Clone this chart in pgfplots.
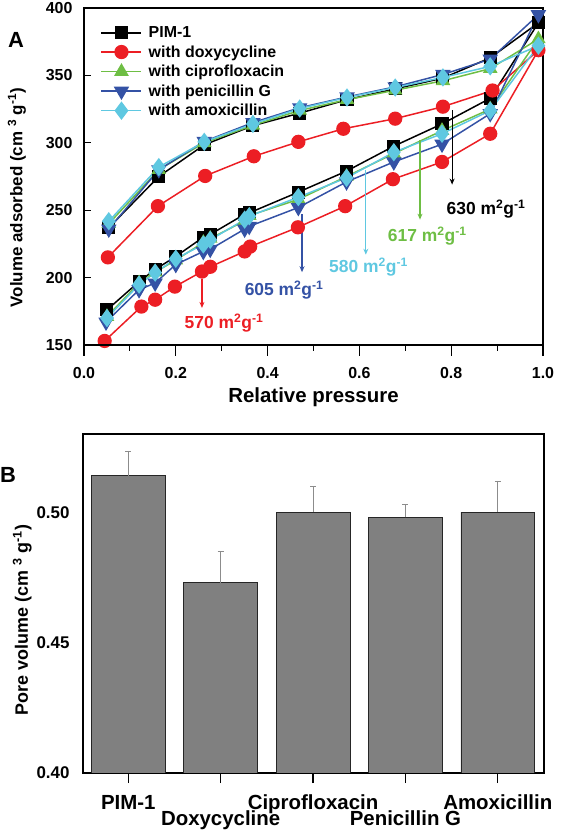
\documentclass[border=0pt]{standalone}
\usepackage{fontspec}
\setmainfont{Liberation Sans}
\usepackage{pgfplots}
\pgfplotsset{compat=1.18}
\usepackage{pgfplotstable}
\usetikzlibrary{arrows.meta}

\definecolor{cred}{RGB}{236,30,36}
\definecolor{cgreen}{RGB}{110,190,68}
\definecolor{cblue}{RGB}{52,82,165}
\definecolor{ccyan}{RGB}{95,200,225}
\definecolor{barg}{RGB}{128,128,128}

\pgfplotstableread{
P V
0.050 176
0.120 197
0.155 206
0.200 215.7
0.260 230
0.275 232
0.350 247
0.360 248
0.467 263.4
0.572 279
0.675 297.5
0.780 314
0.885 333
0.990 389
0.885 363
0.782 348
0.678 340
0.573 332
0.470 322
0.368 312.7
0.262 298.5
0.163 275
0.054 237
}\pimone

\pgfplotstableread{
P V
0.045 153
0.125 178.5
0.155 183.6
0.198 193.3
0.257 204.5
0.275 208
0.350 219.4
0.362 223
0.466 237.3
0.569 253
0.673 273
0.780 285.8
0.885 306.7
0.990 368.7
0.890 338.8
0.782 326.8
0.678 317.9
0.565 310.4
0.467 300.7
0.370 290
0.264 275.4
0.161 253
0.052 215
}\doxy

\pgfplotstableread{
P V
0.050 171
0.120 196
0.155 204
0.200 213
0.260 226
0.275 229
0.350 242
0.360 246
0.467 258
0.572 275
0.675 292
0.780 309
0.885 325
0.990 377
0.885 355
0.782 346
0.678 339
0.573 332
0.470 324
0.368 313
0.262 300
0.163 280
0.054 240
}\cipro

\pgfplotstableread{
P V
0.048 167
0.120 191
0.155 196
0.200 209.7
0.260 219.4
0.275 221
0.350 236
0.360 238
0.467 252
0.572 271
0.675 285.8
0.780 299
0.885 321.6
0.990 395
0.885 362
0.782 350.7
0.678 341.5
0.573 334
0.470 326
0.368 315
0.262 301
0.163 280
0.054 236
}\penic

\pgfplotstableread{
P V
0.050 170
0.120 194.8
0.155 203.7
0.200 214
0.260 224.6
0.275 228
0.350 243
0.360 245.5
0.467 259.7
0.572 274
0.675 293
0.780 306.7
0.885 323.9
0.990 372
0.885 356.7
0.782 348.5
0.678 341
0.573 333.6
0.470 325.4
0.368 314
0.262 300.7
0.163 282
0.054 241.8
}\amox

\pgfplotstableread{
x y e
0 0.514 0.0095
1 0.473 0.012
2 0.500 0.010
3 0.498 0.005
4 0.500 0.012
}\bars

\begin{document}
\begin{tikzpicture}
\path[use as bounding box] (0,0) rectangle (563bp,830bp);

% ---------- Panel A : main axis ----------
\begin{axis}[
  at={(84bp,485bp)}, anchor=south west, scale only axis,
  width=459bp, height=337bp,
  xmin=0, xmax=1, ymin=150, ymax=400,
  xtick=\empty,
  ytick={150,200,250,300,350,400},
  ytick pos=left, tick align=inside, major tick length=7bp,
  /pgf/number format/assume math mode=true,
  axis line style={line width=1.3pt},
  tick style={line width=1.2pt, black},
  y tick label style={font=\fontsize{16}{16}\selectfont\bfseries, xshift=-8bp},
  ylabel={Volume adsorbed (cm \textsuperscript{3} g\textsuperscript{-1})},
  ylabel style={at={(axis description cs:-0.146,0.437)}, anchor=center, font=\fontsize{17}{17}\selectfont\bfseries},
  clip=false,
  legend style={at={(axis description cs:0.036,0.95)}, anchor=north west, draw=none, fill=none,
    font=\fontsize{16}{16}\selectfont\bfseries, row sep=3.5bp, column sep=5bp, inner sep=0pt, nodes={inner sep=1.5bp}},
  legend cell align=left,
  legend image code/.code={\draw[mark repeat=2,mark phase=2] plot coordinates {(0bp,0bp) (20bp,0bp) (40bp,0bp)};},
]
\addplot[black, line width=1.5pt, mark=square*, mark size=5.8pt, mark options={solid, fill=black}] table[x=P,y=V] {\pimone};
\addlegendentry{PIM-1}
\addplot[cred, line width=1.5pt, mark=*, mark size=6.4pt, mark options={solid, fill=cred}] table[x=P,y=V] {\doxy};
\addlegendentry{with doxycycline}
\addplot[cgreen, line width=1.5pt, mark=triangle*, mark size=7pt, mark options={solid, fill=cgreen}] table[x=P,y=V] {\cipro};
\addlegendentry{with ciprofloxacin}
\addplot[cblue, line width=1.5pt, mark=triangle*, mark size=7.5pt, mark options={solid, fill=cblue, rotate=180}] table[x=P,y=V] {\penic};
\addlegendentry{with penicillin G}
\addplot[ccyan, line width=1.5pt, mark=diamond*, mark size=8pt, mark options={solid, fill=ccyan}] table[x=P,y=V] {\amox};
\addlegendentry{with amoxicillin}

% annotations
\draw[cred, line width=1.2pt, -{Stealth[length=6bp,width=5bp]}] (axis cs:0.257,199) -- (axis cs:0.257,177.5);
\node[cred, font=\fontsize{17.5}{17.5}\selectfont\bfseries] at (axis cs:0.305,166) {570 m\textsuperscript{2}g\textsuperscript{-1}};
\draw[cblue, line width=1.2pt, -{Stealth[length=6bp,width=5bp]}] (axis cs:0.475,247) -- (axis cs:0.475,204);
\node[cblue, font=\fontsize{17.5}{17.5}\selectfont\bfseries] at (axis cs:0.436,191) {605 m\textsuperscript{2}g\textsuperscript{-1}};
\draw[ccyan, line width=1.2pt, -{Stealth[length=6bp,width=5bp]}] (axis cs:0.614,280) -- (axis cs:0.614,217);
\node[ccyan, font=\fontsize{17.5}{17.5}\selectfont\bfseries] at (axis cs:0.62,208) {580 m\textsuperscript{2}g\textsuperscript{-1}};
\draw[cgreen, line width=1.2pt, -{Stealth[length=6bp,width=5bp]}] (axis cs:0.732,302) -- (axis cs:0.732,243);
\node[cgreen, font=\fontsize{17.5}{17.5}\selectfont\bfseries] at (axis cs:0.748,230.6) {617 m\textsuperscript{2}g\textsuperscript{-1}};
\draw[black, line width=1.2pt, -{Stealth[length=6bp,width=5bp]}] (axis cs:0.802,324) -- (axis cs:0.802,269);
\node[black, font=\fontsize{17.5}{17.5}\selectfont\bfseries] at (axis cs:0.876,250.7) {630 m\textsuperscript{2}g\textsuperscript{-1}};
\end{axis}

% ---------- Panel A : x axis with outward ticks ----------
\begin{axis}[
  at={(84bp,485bp)}, anchor=south west, scale only axis,
  width=459bp, height=337bp,
  xmin=0, xmax=1, ymin=150, ymax=400,
  axis x line*=bottom, axis y line=none,
  tick align=outside, major tick length=11bp, minor tick length=6bp,
  xtick={0,0.2,0.4,0.6,0.8,1.0}, minor x tick num=1,
  /pgf/number format/assume math mode=true,
  axis line style={line width=1.3pt, -},
  tick style={line width=1.2pt, black},
  x tick label style={font=\fontsize{16}{16}\selectfont\bfseries, yshift=-8bp, /pgf/number format/.cd, fixed, fixed zerofill, precision=1},
  xlabel={Relative pressure},
  xlabel style={at={(axis description cs:0.5,-0.156)}, anchor=center, font=\fontsize{20.5}{20.5}\selectfont\bfseries},
]
\end{axis}

% ---------- Panel B ----------
\begin{axis}[
  at={(83bp,57bp)}, anchor=south west, scale only axis,
  width=461bp, height=339bp,
  ybar, bar width=0.8,
  xmin=-0.49, xmax=4.5, ymin=0.40, ymax=0.53,
  xtick={0,1,2,3,4},
  xticklabels={PIM-1, {\rule{0pt}{30bp}Doxycycline}, Ciprofloxacin, {\rule{0pt}{30bp}Penicillin G}, Amoxicillin},
  xtick pos=bottom, tick align=outside, major tick length=10bp,
  ytick={0.40,0.45,0.50}, ytick style={draw=none},
  /pgf/number format/assume math mode=true,
  axis line style={line width=1.3pt},
  x tick style={line width=1.2pt, black},
  x tick label style={font=\fontsize{20.5}{20.5}\selectfont\bfseries, inner sep=1bp, yshift=-11bp},
  y tick label style={font=\fontsize{17}{17}\selectfont\bfseries, /pgf/number format/.cd, fixed, fixed zerofill, precision=2},
  ylabel={Pore volume (cm \textsuperscript{3} g\textsuperscript{-1})},
  ylabel style={at={(axis description cs:-0.132,0.451)}, anchor=center, font=\fontsize{18}{18}\selectfont\bfseries},
]
\addplot[fill=barg, draw=black!85, line width=0.7pt,
  error bars/.cd, y dir=plus, y explicit,
  error bar style={black!45, line width=0.7pt},
  error mark options={rotate=90, mark size=3bp, black!45, line width=0.7pt}]
  table[x=x, y=y, y error=e] {\bars};
\end{axis}

\node[font=\fontsize{22}{22}\selectfont\bfseries] at (16bp,790bp) {A};
\node[font=\fontsize{22}{22}\selectfont\bfseries] at (8bp,355bp) {B};
\end{tikzpicture}
\end{document}
